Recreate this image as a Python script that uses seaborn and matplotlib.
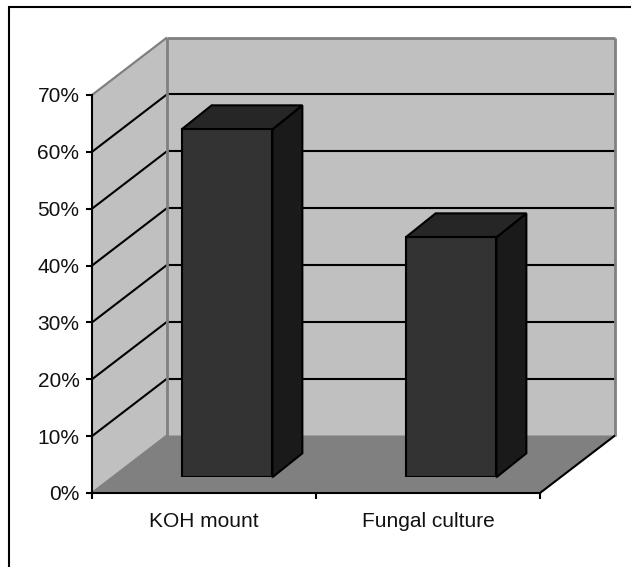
import matplotlib
matplotlib.use("Agg")
import matplotlib.pyplot as plt
import seaborn as sns
from matplotlib.lines import Line2D
from matplotlib.patches import Polygon
from matplotlib.transforms import IdentityTransform

sns.set_theme(style="white")
plt.rcParams['font.family'] = ['Liberation Sans', 'DejaVu Sans']

categories = ["KOH mount", "Fungal culture"]
percent_values = [61.2, 42.2]
y_ticks = [0, 10, 20, 30, 40, 50, 60, 70]
y_tick_labels = ["0%", "10%", "20%", "30%", "40%", "50%", "60%", "70%"]

W, H = 631, 567
DPI = 100
# Front plane of the box, in pixels from the top-left corner
LEFT, RIGHT, TOP, BOTTOM = 92, 540, 95, 493
# Depth of the whole box, of the bars, and where the bars sit inside the box
BOX_DX, BOX_DY = 75, 57.5
BAR_DX, BAR_DY = 30, 24
BAR_SHIFT_X, BAR_SHIFT_Y = 23, 15.7

WALL = "#c0c0c0"
FLOOR = "#808080"
EDGE = "#808080"
FACE = "#333333"
SIDE = "#1a1a1a"
LID = "#262626"


def rect(left, right, top, bottom):
    return [left / W, 1 - bottom / H, (right - left) / W, (bottom - top) / H]


fig = plt.figure(figsize=(W / DPI, H / DPI), dpi=DPI, facecolor="white")
ax = fig.add_axes(rect(LEFT, RIGHT, TOP, BOTTOM))
ax.set_xlim(-0.5, 1.5)
ax.set_ylim(0, 70)
ax.patch.set_visible(False)
for side in ("top", "right"):
    ax.spines[side].set_visible(False)
for side in ("left", "bottom"):
    ax.spines[side].set_linewidth(1.5)
    ax.spines[side].set_color("black")
    ax.spines[side].set_zorder(6)

ax.set_yticks(y_ticks)
ax.set_yticklabels(y_tick_labels, fontsize=15, color="#111111")
ax.set_xticks([-0.5, 0.5, 1.5])
ax.set_xticklabels([])
ax.set_xticks([0, 1], labels=categories, minor=True, fontsize=15, color="#111111")
ax.tick_params(axis="both", which="major", left=True, bottom=True, length=4, width=1.5, color="black", pad=5)
ax.tick_params(axis="y", labelsize=15, pad=5)
ax.tick_params(axis="x", which="minor", bottom=False, length=0, pad=14)


def px(x, y, dx=0.0, dy=0.0):
    """Data position on the front plane, pushed back by a pixel offset."""
    xd, yd = ax.transData.transform((x, y))
    return (xd + dx, yd + dy)


def poly(points, face, z=1):
    ax.add_patch(Polygon(points, closed=True, facecolor=face, edgecolor="none", linewidth=0,
                         transform=IdentityTransform(), clip_on=False, zorder=z))


def line(a, b, color="black", lw=1.5, z=3):
    ax.plot([a[0], b[0]], [a[1], b[1]], color=color, linewidth=lw, transform=IdentityTransform(),
            clip_on=False, zorder=z, solid_capstyle="butt")


x0, x1, y0, y1 = -0.5, 1.5, 0, 70
# Back wall, side wall and floor
poly([px(x0, y0, BOX_DX, BOX_DY), px(x1, y0, BOX_DX, BOX_DY), px(x1, y1, BOX_DX, BOX_DY), px(x0, y1, BOX_DX, BOX_DY)], WALL)
poly([px(x0, y0), px(x0, y0, BOX_DX, BOX_DY), px(x0, y1, BOX_DX, BOX_DY), px(x0, y1)], WALL)
poly([px(x0, y0), px(x1, y0), px(x1, y0, BOX_DX, BOX_DY), px(x0, y0, BOX_DX, BOX_DY)], FLOOR)

# Gridlines run along the side wall and across the back wall
for t in y_ticks[1:-1]:
    line(px(x0, t), px(x0, t, BOX_DX, BOX_DY))
    line(px(x0, t, BOX_DX, BOX_DY), px(x1, t, BOX_DX, BOX_DY))

# Grey outline of the walls, drawn over the gridline ends
line(px(x0, y1), px(x0, y1, BOX_DX, BOX_DY), EDGE, 1.6, 4)
line(px(x0, y1, BOX_DX, BOX_DY), px(x1, y1, BOX_DX, BOX_DY), EDGE, 2.0, 4)
line(px(x1, y1, BOX_DX, BOX_DY), px(x1, y0, BOX_DX, BOX_DY), EDGE, 2.0, 4)
line(px(x0, y0, BOX_DX, BOX_DY), px(x0, y1, BOX_DX, BOX_DY), EDGE, 2.0, 4)
line(px(x0, y0), px(x0, y0, BOX_DX, BOX_DY), EDGE, 1.6, 4)

# Front-right floor edge
line(px(x1, y0), px(x1, y0, BOX_DX, BOX_DY), "black", 1.5, 4)

# The bars live on an axes shifted into the box, so their faces keep the same scale
ax_bars = fig.add_axes(rect(LEFT + BAR_SHIFT_X, RIGHT + BAR_SHIFT_X, TOP - BAR_SHIFT_Y, BOTTOM - BAR_SHIFT_Y))
sns.barplot(x=categories, y=percent_values, ax=ax_bars, width=0.405, color=FACE, saturation=1,
            edgecolor="black", linewidth=1.5)
ax_bars.set_xlim(-0.5, 1.5)
ax_bars.set_ylim(0, 70)
ax_bars.axis("off")
ax_bars.patch.set_visible(False)

fig.canvas.draw()
for bar in list(ax_bars.patches):
    bar.set_zorder(5)
    (bx0, by0), (bx1, by1) = ax_bars.transData.transform(
        [(bar.get_x(), 0), (bar.get_x() + bar.get_width(), bar.get_height())])
    ax_bars.add_patch(Polygon([(bx1, by0), (bx1 + BAR_DX, by0 + BAR_DY), (bx1 + BAR_DX, by1 + BAR_DY), (bx1, by1)],
                              closed=True, facecolor=SIDE, edgecolor="black", linewidth=1.5,
                              transform=IdentityTransform(), clip_on=False, zorder=4, joinstyle="miter"))
    ax_bars.add_patch(Polygon([(bx0, by1), (bx1, by1), (bx1 + BAR_DX, by1 + BAR_DY), (bx0 + BAR_DX, by1 + BAR_DY)],
                              closed=True, facecolor=LID, edgecolor="black", linewidth=1.5,
                              transform=IdentityTransform(), clip_on=False, zorder=4, joinstyle="miter"))

# Chart-area border: only its top and left edges fall inside the frame
border_x, border_y = 8.5 / W, 1 - 6.5 / H
fig.add_artist(Line2D([border_x, border_x, 1], [0, border_y, border_y], transform=fig.transFigure,
                      color="black", linewidth=1.5, solid_joinstyle="miter"))

fig.savefig("out.png", dpi=DPI, facecolor="white")
